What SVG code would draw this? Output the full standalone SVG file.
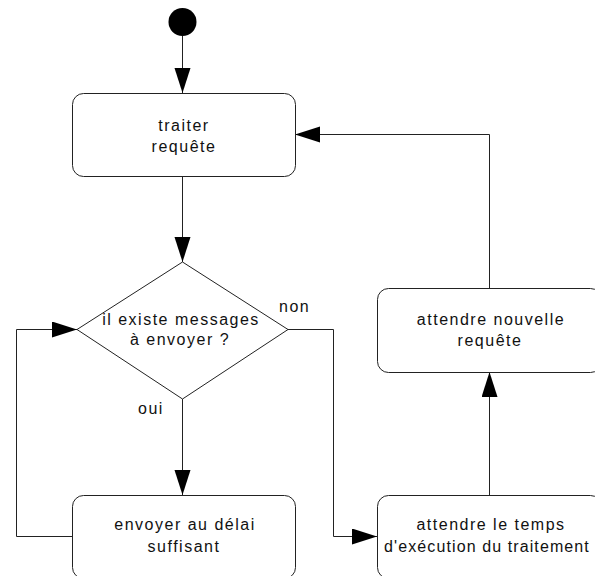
<svg xmlns="http://www.w3.org/2000/svg" width="595" height="576" viewBox="0 0 595 576">
<style>
.box{fill:#fff;stroke:#222;stroke-width:1}
.t{font-family:"Liberation Sans",Arial,sans-serif;font-size:16px;fill:#111;letter-spacing:1.5px}
.c{text-anchor:middle}
.edge{fill:none;stroke:#222;stroke-width:1}
</style>
<defs>
<marker id="arr" markerUnits="userSpaceOnUse" markerWidth="26" markerHeight="18" refX="25" refY="8" orient="auto">
<path d="M0,0 L25,8 L0,16 z" fill="#000"/>
</marker>
</defs>
<rect width="595" height="576" fill="#fff"/>
<g id="connectors">
<path class="edge" d="M182.5,36 V93" marker-end="url(#arr)"/>
<path class="edge" d="M182.5,176 V262" marker-end="url(#arr)"/>
<path class="edge" d="M182.5,399 V495" marker-end="url(#arr)"/>
<path class="edge" d="M72,536.5 H16.5 V329.5 H77" marker-end="url(#arr)"/>
<path class="edge" d="M288,329.5 H333.5 V536.5 H377" marker-end="url(#arr)"/>
<path class="edge" d="M489.5,495 V372" marker-end="url(#arr)"/>
<path class="edge" d="M489.5,288 V134.5 H295" marker-end="url(#arr)"/>
</g>
<g id="start">
<circle cx="182.5" cy="22" r="14" fill="#000"/>
</g>
<g id="traiter">
<rect class="box" x="72.5" y="93.5" width="223" height="83" rx="11"/>
<text class="t c" x="184" y="131">traiter</text>
<text class="t c" x="184" y="152">requête</text>
</g>
<g id="decision">
<path class="box" d="M182.5,262 L288,329.5 L182.5,399 L77,329.5 Z"/>
<text class="t c" x="181" y="325">il existe messages</text>
<text class="t c" x="180" y="345">à envoyer ?</text>
<text class="t" x="279" y="312">non</text>
<text class="t" x="138" y="414">oui</text>
</g>
<g id="envoyer">
<rect class="box" x="72.5" y="495.5" width="223" height="83" rx="11"/>
<text class="t c" x="185" y="530">envoyer au délai</text>
<text class="t c" x="184" y="552">suffisant</text>
</g>
<g id="attendre-temps">
<rect class="box" x="377.5" y="495.5" width="224" height="83" rx="11"/>
<text class="t c" x="491" y="530">attendre le temps</text>
<text class="t c" x="487" y="552" style="letter-spacing:1.1px">d'exécution du traitement</text>
</g>
<g id="attendre-requete">
<rect class="box" x="377.5" y="288.5" width="224" height="84" rx="11"/>
<text class="t c" x="491" y="325">attendre nouvelle</text>
<text class="t c" x="490" y="346">requête</text>
</g>
</svg>
